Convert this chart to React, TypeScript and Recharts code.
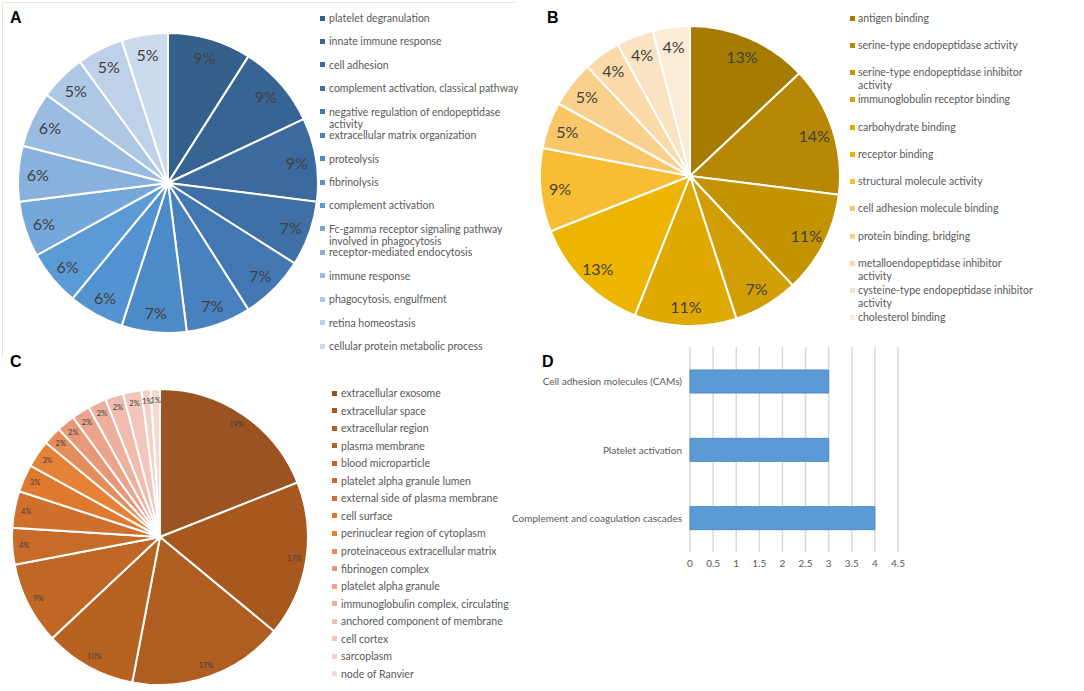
import React from 'react'
import { PieChart, Pie, Cell, BarChart, Bar, XAxis, YAxis, CartesianGrid } from 'recharts'

// A: biological process
const bpTerms = [
  'platelet degranulation',
  'innate immune response',
  'cell adhesion',
  'complement activation, classical pathway',
  'negative regulation of endopeptidase\nactivity',
  'extracellular matrix organization',
  'proteolysis',
  'fibrinolysis',
  'complement activation',
  'Fc-gamma receptor signaling pathway\ninvolved in phagocytosis',
  'receptor-mediated endocytosis',
  'immune response',
  'phagocytosis, engulfment',
  'retina homeostasis',
  'cellular protein metabolic process',
]
const bpPercent = [9, 9, 9, 7, 7, 7, 7, 6, 6, 6, 6, 6, 5, 5, 5]

// B: molecular function
const mfTerms = [
  'antigen binding',
  'serine-type endopeptidase activity',
  'serine-type endopeptidase inhibitor\nactivity',
  'immunoglobulin receptor binding',
  'carbohydrate binding',
  'receptor binding',
  'structural molecule activity',
  'cell adhesion molecule binding',
  'protein binding, bridging',
  'metalloendopeptidase inhibitor\nactivity',
  'cysteine-type endopeptidase inhibitor\nactivity',
  'cholesterol binding',
]
const mfPercent = [13, 14, 11, 7, 11, 13, 9, 5, 5, 4, 4, 4]

// C: cellular component
const ccTerms = [
  'extracellular exosome',
  'extracellular space',
  'extracellular region',
  'plasma membrane',
  'blood microparticle',
  'platelet alpha granule lumen',
  'external side of plasma membrane',
  'cell surface',
  'perinuclear region of cytoplasm',
  'proteinaceous extracellular matrix',
  'fibrinogen complex',
  'platelet alpha granule',
  'immunoglobulin complex, circulating',
  'anchored component of membrane',
  'cell cortex',
  'sarcoplasm',
  'node of Ranvier',
]
const ccPercent = [19, 17, 17, 10, 9, 4, 4, 3, 3, 2, 2, 2, 2, 2, 2, 1, 1]

// D: KEGG pathways
const keggPathways = [
  'Cell adhesion molecules (CAMs)',
  'Platelet activation',
  'Complement and coagulation cascades',
]
const keggCounts = [3, 3, 4]
const keggTicks = [0, 0.5, 1, 1.5, 2, 2.5, 3, 3.5, 4, 4.5]

const bpColors = [
  '#35608C', '#376493', '#3B6B9E', '#3E70A6', '#4377B2', '#4881BD', '#4D8AC8', '#5493D1',
  '#5B9BD5', '#74A7DA', '#88B1DD', '#9BBCE1', '#AEC7E5', '#BED1E9', '#CCDAEE',
]
const mfColors = [
  '#A67C00', '#B68805', '#C49300', '#D19E05', '#DFA900', '#EDB400',
  '#F8BE33', '#F9C768', '#F9D18C', '#F9DAA8', '#FAE3C2', '#FCEBD6',
]
const ccColors = [
  '#9B5322', '#A6581F', '#AF5D21', '#B86221', '#C06725', '#C76B29', '#D0702C', '#DE792F',
  '#E58236', '#E58C5C', '#E69879', '#EAA48C', '#EDB09E', '#F0BCAD', '#F2C6BA', '#F4D0C7', '#F6D9D2',
]

const FONT = 'Lato, "Open Sans", sans-serif'
const TEXT = '#595959'
const RAD = Math.PI / 180
const NO_MARGIN = { top: 0, right: 0, bottom: 0, left: 0 }

const pctLabel = (fontSize: number, ratio: number) => (p: any) => {
  const r = p.outerRadius * ratio
  const x = p.cx + r * Math.cos(-p.midAngle * RAD)
  const y = p.cy + r * Math.sin(-p.midAngle * RAD)
  return (
    <text x={x} y={y} textAnchor="middle" dominantBaseline="central" fontSize={fontSize} fill="#404040" fontFamily={FONT}>
      {p.value}%
    </text>
  )
}

type LegendProps = {
  items: string[]; colors: string[]; left: number; top: number; step: number; lineH: number; textDx: number
}

function SideLegend({ items, colors, left, top, step, lineH, textDx }: LegendProps) {
  return (
    <>
      {items.map((t, i) => (
        <div key={t} style={{ position: 'absolute', left, top: top + i * step - lineH / 2, fontFamily: FONT, fontSize: 10.5, lineHeight: `${lineH}px`, color: TEXT }}>
          <span style={{ position: 'absolute', left: 0, top: (lineH - 5) / 2, width: 5, height: 5, background: colors[i] }} />
          <div style={{ marginLeft: textDx, whiteSpace: 'pre-line' }}>{t}</div>
        </div>
      ))}
    </>
  )
}

const PanelTag = ({ l, x, y }: { l: string; x: number; y: number }) => (
  <div style={{ position: 'absolute', left: x, top: y, fontFamily: '"Liberation Sans", Arial, sans-serif', fontWeight: 700, fontSize: 16, lineHeight: '16px', color: '#000' }}>{l}</div>
)

export default function App() {
  const bpData = bpTerms.map((name, i) => ({ name, value: bpPercent[i] }))
  const mfData = mfTerms.map((name, i) => ({ name, value: mfPercent[i] }))
  const ccData = ccTerms.map((name, i) => ({ name, value: ccPercent[i] }))
  const keggData = keggPathways.map((pathway, i) => ({ pathway, count: keggCounts[i] }))

  return (
    <div style={{ position: 'relative', width: 1084, height: 691, background: '#fff', overflow: 'hidden' }}>
      <style>{'body{margin:0}'}</style>

      {/* faint frame around panel A */}
      <div style={{ position: 'absolute', left: 2, top: 2, width: 512, height: 354, borderTop: '1px solid #E3E3E3', borderLeft: '1px solid #E3E3E3' }} />

      <PanelTag l="A" x={10} y={10} />
      <div style={{ position: 'absolute', left: 0, top: 0 }}>
        <PieChart width={330} height={345} margin={NO_MARGIN}>
          <Pie data={bpData} dataKey="value" nameKey="name" cx={168} cy={183} outerRadius={150}
            startAngle={90} endAngle={-270} stroke="#fff" strokeWidth={2}
            label={pctLabel(16, 0.87)} labelLine={false} isAnimationActive={false}>
            {bpData.map((d, i) => <Cell key={d.name} fill={bpColors[i]} />)}
          </Pie>
        </PieChart>
      </div>
      <SideLegend items={bpTerms} colors={bpColors} left={320} top={18} step={23.43} lineH={12} textDx={9} />

      <PanelTag l="B" x={547} y={10} />
      <div style={{ position: 'absolute', left: 530, top: 0 }}>
        <PieChart width={320} height={340} margin={NO_MARGIN}>
          <Pie data={mfData} dataKey="value" nameKey="name" cx={160} cy={176} outerRadius={150}
            startAngle={90} endAngle={-270} stroke="#fff" strokeWidth={2}
            label={pctLabel(16, 0.87)} labelLine={false} isAnimationActive={false}>
            {mfData.map((d, i) => <Cell key={d.name} fill={mfColors[i]} />)}
          </Pie>
        </PieChart>
      </div>
      <SideLegend items={mfTerms} colors={mfColors} left={850} top={18} step={27.27} lineH={13} textDx={8} />

      <PanelTag l="C" x={10} y={354} />
      <div style={{ position: 'absolute', left: 0, top: 370 }}>
        <PieChart width={320} height={321} margin={NO_MARGIN}>
          <Pie data={ccData} dataKey="value" nameKey="name" cx={160} cy={167} outerRadius={148}
            startAngle={90} endAngle={-270} stroke="#fff" strokeWidth={2}
            label={pctLabel(7.5, 0.92)} labelLine={false} isAnimationActive={false}>
            {ccData.map((d, i) => <Cell key={d.name} fill={ccColors[i]} />)}
          </Pie>
        </PieChart>
      </div>
      <SideLegend items={ccTerms} colors={ccColors} left={332} top={393} step={17.56} lineH={12} textDx={9} />

      <PanelTag l="D" x={542} y={354} />
      <div style={{ position: 'absolute', left: 480, top: 340 }}>
        <BarChart width={430} height={242} data={keggData} layout="vertical" barSize={23}
          margin={{ top: 7, right: 12, bottom: 0, left: 0 }}>
          <CartesianGrid horizontal={false} stroke="#D9D9D9" strokeWidth={1.5} />
          <XAxis type="number" domain={[0, 4.5]} ticks={keggTicks} interval={0}
            axisLine={false} tickLine={false} height={30}
            tick={{ fontSize: 10, fill: TEXT, fontFamily: FONT }} />
          <YAxis type="category" dataKey="pathway" width={210}
            axisLine={false} tickLine={false}
            tick={(p: any) => (
              <text x={p.x} y={p.y} textAnchor="end" dominantBaseline="central" fontSize={10} fill={TEXT} fontFamily={FONT}>
                {p.payload.value}
              </text>
            )} />
          <Bar dataKey="count" fill="#5B9BD5" stroke="#4F8CC6" strokeWidth={1} isAnimationActive={false} />
        </BarChart>
      </div>
    </div>
  )
}
